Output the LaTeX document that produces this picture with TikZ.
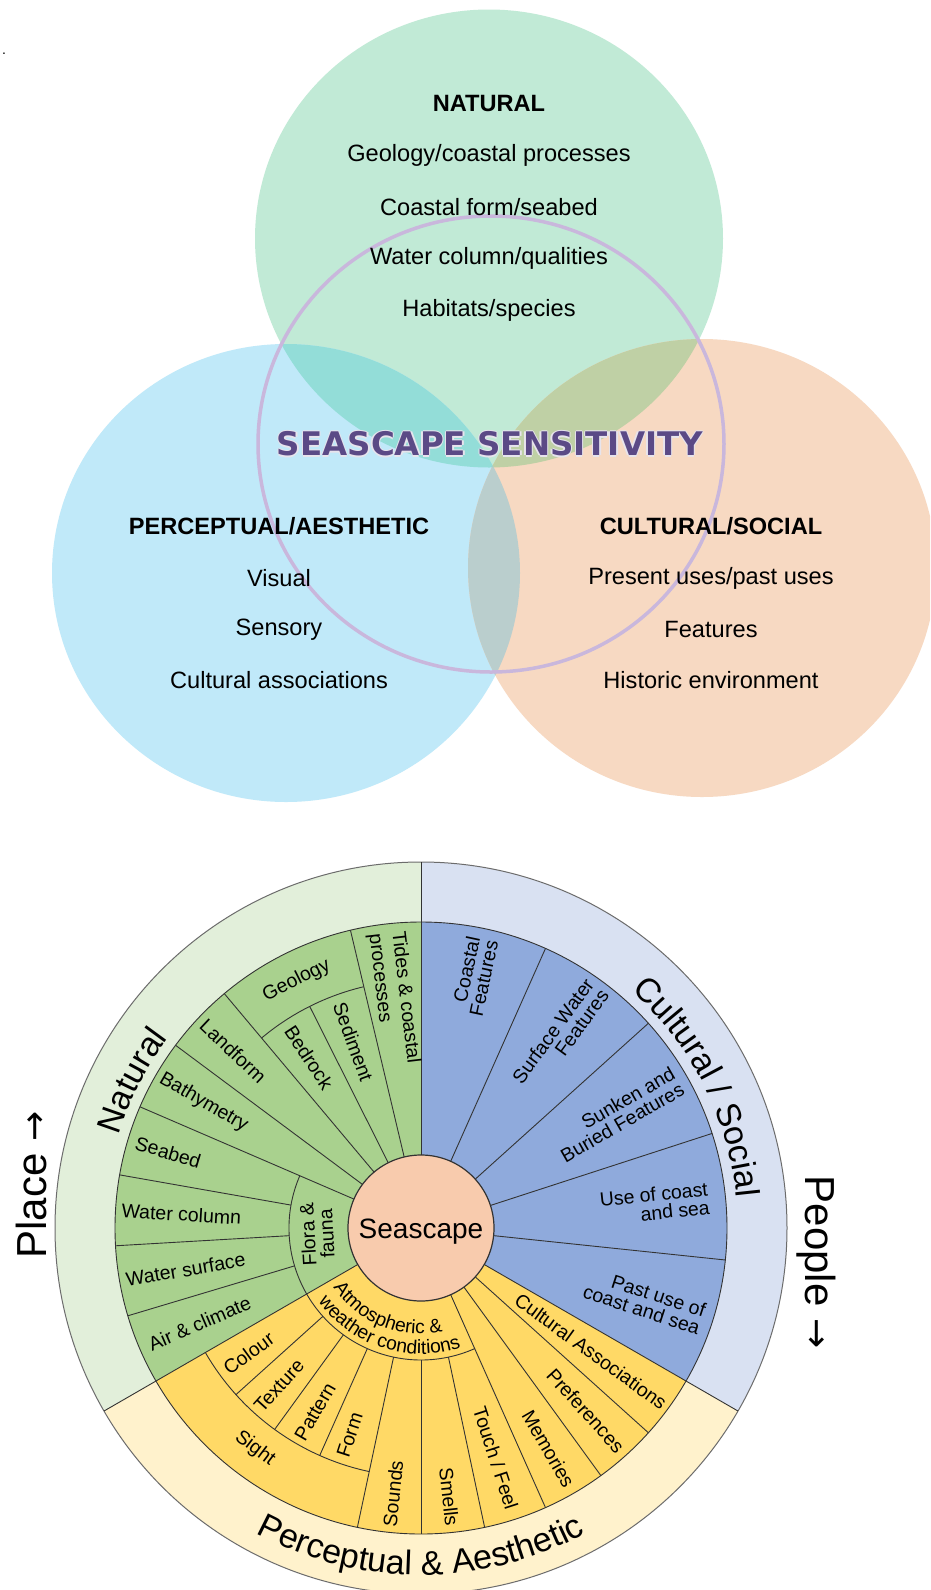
\documentclass[tikz,border=0pt]{standalone}
\usepackage{fontspec}
\setmainfont{Liberation Sans}
\newfontfamily\titlefont{DejaVu Sans}
\usetikzlibrary{decorations.text}
\definecolor{vgreen}{HTML}{C1EAD6}
\definecolor{vblue}{HTML}{C0E9F9}
\definecolor{vorange}{HTML}{F7D9C2}
\definecolor{vgb}{HTML}{93DDD8}
\definecolor{vgo}{HTML}{BFD0A5}
\definecolor{vbo}{HTML}{BACECD}
\definecolor{vtri}{HTML}{A8CFC4}
\definecolor{vring}{HTML}{C9B7DC}
\definecolor{vtitle}{HTML}{5B4A86}
\definecolor{lgreen}{HTML}{E2EFDA}
\definecolor{lblue}{HTML}{D9E1F2}
\definecolor{lyellow}{HTML}{FFF2CC}
\definecolor{dgreen}{HTML}{A9D18E}
\definecolor{dblue}{HTML}{8FAADC}
\definecolor{dyellow}{HTML}{FFD966}
\definecolor{seasc}{HTML}{F8CBAD}
\definecolor{wline}{HTML}{333333}
\newcommand\ringfont{\fontsize{34}{38}\selectfont}
\newcommand\smallarc{\fontsize{19.3}{21}\selectfont}
\begin{document}
\begin{tikzpicture}[x=1pt,y=1pt,
  vt/.style={font=\fontsize{23.6}{28}\selectfont, inner sep=0pt},
  vb/.style={font=\fontsize{23.6}{28}\selectfont\bfseries, inner sep=0pt},
  wl/.style={draw=wline, line width=0.9pt},
  wlab/.style={font=\fontsize{19.5}{18.5}\selectfont, inner sep=0pt, align=center},
  ringtext/.style={decorate, decoration={text along path, text align=center, text={|\ringfont|#1}}},
  arctext/.style={decorate, decoration={text along path, text align=center, text={|\smallarc|#1}}},
  sidelab/.style={font=\fontsize{42}{46}\selectfont, inner sep=0pt}
]
\useasboundingbox (0,0) rectangle (930,-1590);
\clip (0,0) rectangle (930,-1590);
\fill[white] (0,0) rectangle (930,-1590);
\node[font=\fontsize{14}{14}\selectfont, inner sep=0pt] (dot) at (4,-54) {.};

% ---------- Venn ----------
\coordinate (gc) at (489,-238.5);
\coordinate (bc) at (286,-573);
\coordinate (oc) at (702,-568);
\coordinate (rc) at (491,-444);
\fill[vgreen] (gc) ellipse[x radius=234, y radius=229];
\fill[vblue] (bc) ellipse[x radius=234, y radius=229];
\fill[vorange] (oc) ellipse[x radius=234, y radius=229];
\begin{scope}
  \clip (gc) ellipse[x radius=234, y radius=229];
  \fill[vgb] (bc) ellipse[x radius=234, y radius=229];
  \fill[vgo] (oc) ellipse[x radius=234, y radius=229];
\end{scope}
\begin{scope}
  \clip (bc) ellipse[x radius=234, y radius=229];
  \fill[vbo] (oc) ellipse[x radius=234, y radius=229];
\end{scope}
\begin{scope}
  \clip (gc) ellipse[x radius=234, y radius=229];
  \clip (bc) ellipse[x radius=234, y radius=229];
  \fill[vtri] (oc) ellipse[x radius=234, y radius=229];
\end{scope}
\draw[vring, line width=3.5pt] (rc) ellipse[x radius=233, y radius=228];

\node[vb] (nat) at (489,-103.4) {NATURAL};
\node[vt] (nat1) at (489,-155.1) {Geology/coastal processes};
\node[vt] (nat2) at (489,-206.9) {Coastal form/seabed};
\node[vt] (nat3) at (489,-258.6) {Water column/qualities};
\node[vt] (nat4) at (489,-310.3) {Habitats/species};

\foreach \dx/\dy [count=\i] in {1.3/0,-1.3/0,0/1.3,0/-1.3}
  \node[font=\titlefont\bfseries\fontsize{32.5}{36}\selectfont, text=white!85!vtitle, inner sep=0pt] (glow\i) at (490+\dx,-444+\dy) {SEASCAPE SENSITIVITY};
\node[font=\titlefont\bfseries\fontsize{32.5}{36}\selectfont, text=vtitle, inner sep=0pt] (title) at (490,-444) {SEASCAPE SENSITIVITY};

\node[vb] (per) at (279,-526.3) {PERCEPTUAL/AESTHETIC};
\node[vt] (per1) at (279,-578) {Visual};
\node[vt] (per2) at (279,-629.7) {Sensory};
\node[vt] (per3) at (279,-680.4) {Cultural associations};

\node[vb] (cul) at (711,-526.3) {CULTURAL/SOCIAL};
\node[vt] (cul1) at (711,-578) {Present uses/past uses};
\node[vt] (cul2) at (711,-629.7) {Features};
\node[vt] (cul3) at (711,-680.4) {Historic environment};

% ---------- Wheel ----------
\begin{scope}[shift={(421,-1228)}]
  \fill[lgreen] (0,0) -- (90:366) arc[start angle=90, end angle=210, radius=366] -- cycle;
  \fill[lblue] (0,0) -- (-30:366) arc[start angle=-30, end angle=90, radius=366] -- cycle;
  \fill[lyellow] (0,0) -- (210:366) arc[start angle=210, end angle=330, radius=366] -- cycle;
  \draw[draw=gray!85!black, line width=1pt] (0,0) circle[radius=366];
  \fill[dgreen] (0,0) -- (90:306) arc[start angle=90, end angle=210, radius=306] -- cycle;
  \fill[dblue] (0,0) -- (-30:306) arc[start angle=-30, end angle=90, radius=306] -- cycle;
  \fill[dyellow] (0,0) -- (210:306) arc[start angle=210, end angle=330, radius=306] -- cycle;
  \draw[wl] (0,0) circle[radius=306];

  \foreach \a/\ra/\rb in {90/73/366, 103.33/73/306, 116.67/73/248, 130/73/306, 143.33/73/306, 156.67/73/306,
     170/132/306, 183.33/132/306, 196.67/132/306, 210/73/366,
     222/132/249, 234/132/249, 246/132/249, 258/132/306, 270/132/306, 282/132/306,
     294/73/306, 306/73/306, 318/73/306, 330/73/366,
     66/73/306, 42/73/306, 18/73/306, -6/73/306}
    \draw[wl] (\a:\ra) -- (\a:\rb);
  \draw[wl] (103.33:248) arc[start angle=103.33, end angle=130, radius=248];
  \draw[wl] (156.67:132) arc[start angle=156.67, end angle=294, radius=132];
  \draw[wl] (210:249) arc[start angle=210, end angle=258, radius=249];

  \fill[seasc] (0,0) circle[radius=73];
  \draw[draw=wline, line width=1.2pt] (0,0) circle[radius=73];
  \node[font=\fontsize{28}{30}\selectfont, inner sep=0pt] (seascape) at (0,-4) {Seascape};

  % green labels
  \node[wlab, rotate=-83.3, align=left, font=\fontsize{19.5}{23}\selectfont] (tides) at (96.8:231) {Tides \& coastal\\processes};
  \node[wlab, rotate=26.7] (geology) at (116.7:277) {Geology};
  \node[wlab, rotate=-70] (sediment) at (110:198) {Sediment};
  \node[wlab, rotate=-56.7] (bedrock) at (123.3:204) {Bedrock};
  \node[wlab, rotate=-43.3] (landform) at (136.7:258) {Landform};
  \node[wlab, rotate=-30] (bathy) at (150:251) {Bathymetry};
  \node[wlab, rotate=-16.7] (seabed) at (163.3:264) {Seabed};
  \node[wlab, rotate=-3.3] (wcol) at (176.7:240) {Water column};
  \node[wlab, rotate=10] (wsurf) at (190:239) {Water surface};
  \node[wlab, rotate=23.3] (air) at (203.3:241) {Air \& climate};
  \node[wlab, rotate=93] (flora) at (183.3:104) {Flora \&\\fauna};
  % blue labels
  \node[wlab, rotate=78, align=right] (coastal) at (78:257) {Coastal\\Features};
  \node[wlab, rotate=54, align=right] (surface) at (54:237) {Surface Water\\Features};
  \node[wlab, rotate=30, align=right] (sunken) at (30:227) {Sunken and\\Buried Features};
  \node[wlab, rotate=6, align=right] (use) at (6:235) {Use of coast\\and sea};
  \node[wlab, rotate=-18, align=right] (past) at (-18:235) {Past use of\\coast and sea};
  % yellow labels
  \node[wlab, rotate=-37] (sight) at (233:276) {Sight};
  \node[wlab, rotate=36] (colour) at (216:213) {Colour};
  \node[wlab, rotate=48] (texture) at (228:212) {Texture};
  \node[wlab, rotate=60] (pattern) at (240:212) {Pattern};
  \node[wlab, rotate=72] (form) at (251:219) {Form};
  \node[wlab, rotate=84] (sounds) at (264:267) {Sounds};
  \node[wlab, rotate=-84] (smells) at (276:270) {Smells};
  \node[wlab, rotate=-72] (touch) at (288:242) {Touch / Feel};
  \node[wlab, rotate=-60] (memories) at (300:255) {Memories};
  \node[wlab, rotate=-48] (prefs) at (312:246) {Preferences};
  \node[wlab, rotate=-36] (cultassoc) at (324:210) {Cultural Associations};

  % curved labels
  \path[arctext={Atmospheric {\&}}] (203:106) arc[start angle=203, end angle=293, radius=106];
  \path[arctext={weather conditions}] (207:126) arc[start angle=207, end angle=297, radius=126];
  \path[ringtext={Natural}] (183:316) arc[start angle=183, end angle=123, radius=316];
  \path[ringtext={Cultural / Social}] (62:317) arc[start angle=62, end angle=-8, radius=317];
  \path[ringtext={Perceptual {\&} Aesthetic}] (215:347) arc[start angle=215, end angle=325, radius=347];
\end{scope}

\node[sidelab, rotate=90] (place) at (31,-1185) {Place {\titlefont\fontsize{36}{40}\selectfont →}};
\node[sidelab, rotate=-90] (people) at (816,-1262) {People {\titlefont\fontsize{36}{40}\selectfont →}};
\end{tikzpicture}
\end{document}
